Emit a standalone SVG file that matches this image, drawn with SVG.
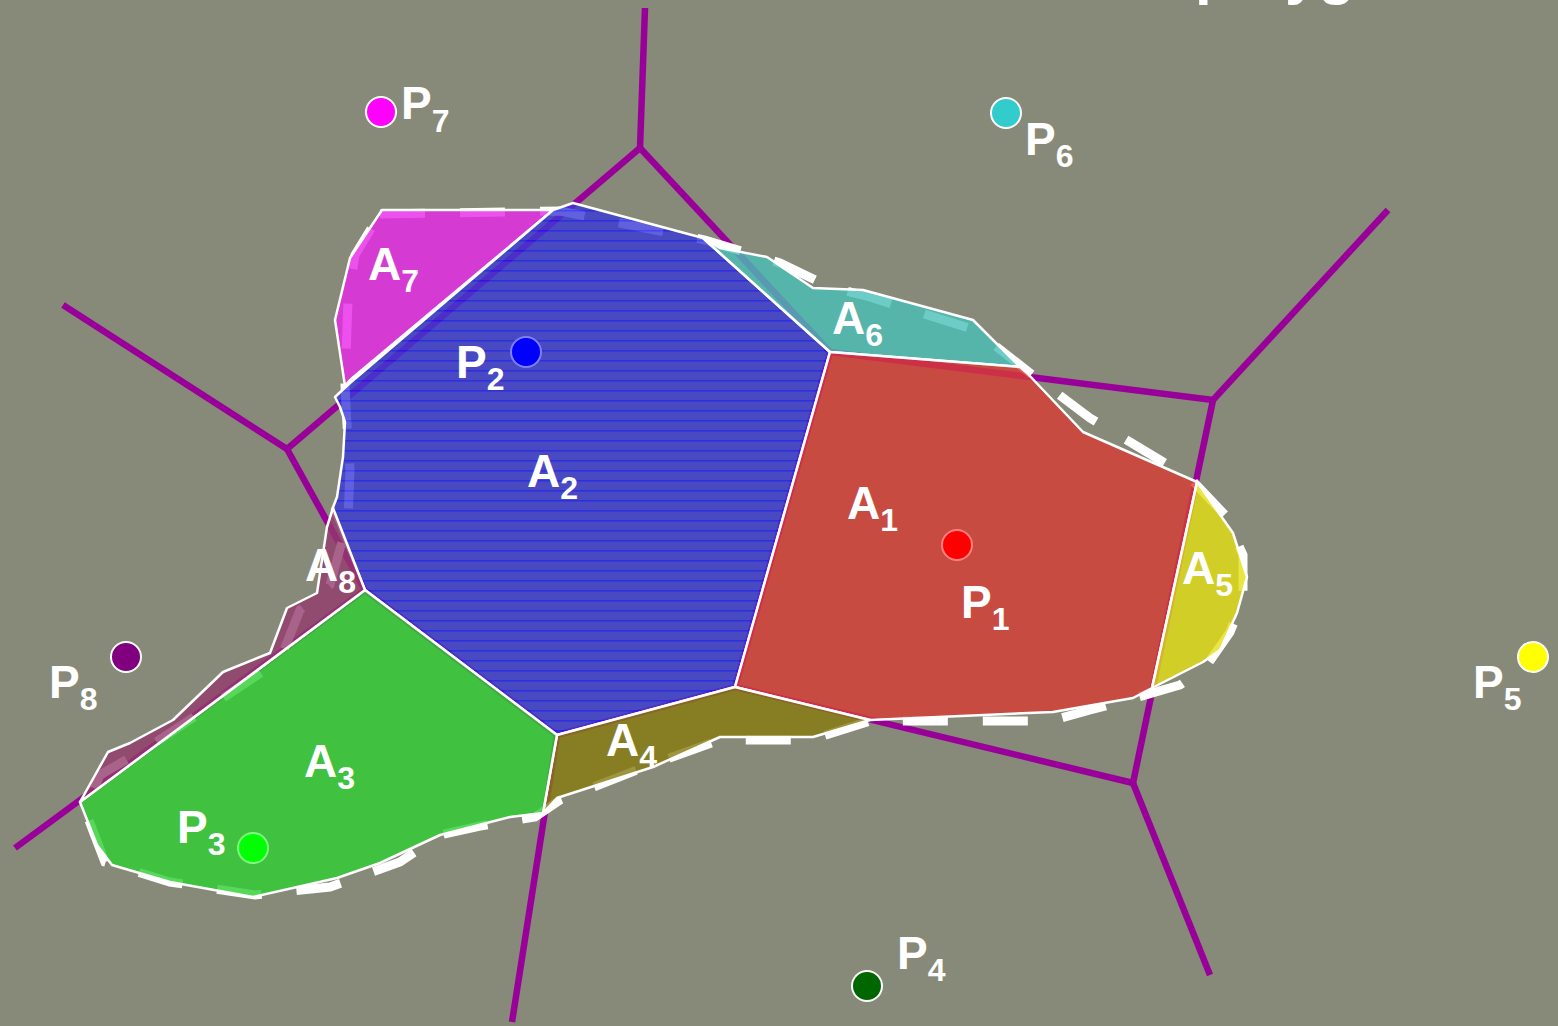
<svg xmlns="http://www.w3.org/2000/svg" width="1558" height="1026" viewBox="0 0 1558 1026">
<defs>
<style>
.vl{stroke:#990099;stroke-width:6.5;fill:none;stroke-linecap:butt}
.dash{fill:none;stroke:#ffffff;stroke-width:9;stroke-dasharray:45 35}
.reg{stroke:#ffffff;stroke-width:2.5;stroke-linejoin:round;fill-opacity:0.8}
.lbl{font-family:"Liberation Sans",Arial,sans-serif;font-weight:bold;font-size:46px;fill:#ffffff}
.sub{font-size:32px}
.pt{stroke-width:2}
</style>
<pattern id="hl" width="10" height="10" patternUnits="userSpaceOnUse">
<rect width="10" height="10" fill="#3a3ad4"/>
<rect y="0" width="10" height="1.6" fill="#1818f8"/>
</pattern>
</defs>
<rect width="1558" height="1026" fill="#878a78"/>
<text class="lbl" x="1195" y="-7" style="font-size:60px">polygons</text>

<g id="connectors">
<path class="vl" d="M645,8 L640,148"/>
<path class="vl" d="M640,148 L287,449"/>
<path class="vl" d="M640,148 L830,352"/>
<path class="vl" d="M287,449 L63,305"/>
<path class="vl" d="M287,449 L365,590"/>
<path class="vl" d="M365,590 L557,735"/>
<path class="vl" d="M365,590 L15,848"/>
<path class="vl" d="M557,735 L735,687"/>
<path class="vl" d="M557,735 L512,1022"/>
<path class="vl" d="M735,687 L830,352"/>
<path class="vl" d="M735,687 L1133,783"/>
<path class="vl" d="M830,352 L1213,400"/>
<path class="vl" d="M1213,400 L1388,210"/>
<path class="vl" d="M1213,400 L1133,783"/>
<path class="vl" d="M1133,783 L1210,975"/>
</g>

<g id="outline">
<path class="dash" d="M380,214 L560,211 L705,240 L780,263 L830,287 L870,297 L975,330 L1030,373 L1090,418 L1190,478 L1225,515 L1243,555 L1243,600 L1230,632 L1205,668 L1180,685 L1135,698 L1090,710 L1050,721 L870,721 L810,740 L720,740 L650,765 L560,800 L535,817 L480,826 L440,835 L400,862 L330,887 L255,895 L170,882 L105,862 L85,810 L100,775 L150,746 L220,700 L280,660 L300,610 L330,585 L348,520 L350,470 L347,425 L345,385 L348,300 L355,255 Z"/>
</g>

<g id="A7"><path class="reg" fill="#e926e8" d="M382,210 L553,210 L350,380 L345,386 L335,320 L350,258 Z"/>
<text class="lbl" x="368" y="280">A<tspan class="sub" dy="12">7</tspan></text></g>
<g id="A2"><path class="reg" fill="url(#hl)" d="M553,210 L573,203 L703,238 L830,352 L735,687 L557,735 L365,590 L332,510 L337,497 L343,457 L345,422 L340,407 L335,397 L350,383 Z"/>
<text class="lbl" x="527" y="487">A<tspan class="sub" dy="12">2</tspan></text></g>
<g id="A6"><path class="reg" fill="#48bfb7" d="M703,238 L720,248 L767,257 L813,288 L863,290 L973,320 L1020,367 L830,352 Z"/>
<text class="lbl" x="832" y="334">A<tspan class="sub" dy="12">6</tspan></text></g>
<g id="A1"><path class="reg" fill="#d83b33" d="M830,352 L1020,367 L1027,373 L1083,432 L1197,482 L1152,688 L1133,698 L1093,705 L1053,712 L870,720 L735,687 Z"/>
<text class="lbl" x="847" y="519">A<tspan class="sub" dy="12">1</tspan></text></g>
<g id="A5"><path class="reg" fill="#e4de14" d="M1197,482 L1233,533 L1247,577 L1237,613 L1220,650 L1203,662 L1152,688 Z"/>
<text class="lbl" x="1182" y="584">A<tspan class="sub" dy="12">5</tspan></text></g>
<g id="A4"><path class="reg" fill="#877a0e" d="M735,687 L870,720 L813,737 L720,737 L653,767 L557,798 L543,813 L557,735 Z"/>
<text class="lbl" x="606" y="756">A<tspan class="sub" dy="12">4</tspan></text></g>
<g id="A3"><path class="reg" fill="#2ece32" d="M365,590 L557,735 L543,813 L510,817 L440,835 L380,863 L337,878 L253,897 L170,882 L112,865 L97,845 L80,802 Z"/>
<text class="lbl" x="304" y="777">A<tspan class="sub" dy="12">3</tspan></text></g>
<g id="A8"><path class="reg" fill="#933b6b" d="M80,802 L108,752 L130,743 L173,720 L223,672 L270,653 L287,608 L317,593 L327,527 L333,508 L365,590 Z"/>
<text class="lbl" x="305" y="581">A<tspan class="sub" dy="12">8</tspan></text></g>

<g id="P7"><circle class="pt" cx="381" cy="112" r="15" fill="#ff00ff" stroke="#ffffff"/>
<text class="lbl" x="401" y="119">P<tspan class="sub" dy="13">7</tspan></text></g>
<g id="P6"><circle class="pt" cx="1006" cy="113" r="15" fill="#33cccc" stroke="#ffffff"/>
<text class="lbl" x="1025" y="155">P<tspan class="sub" dy="12">6</tspan></text></g>
<g id="P2"><circle class="pt" cx="526" cy="352" r="15" fill="#0000ff" stroke="#8080ff"/>
<text class="lbl" x="456" y="378">P<tspan class="sub" dy="12">2</tspan></text></g>
<g id="P1"><circle class="pt" cx="957" cy="545" r="15" fill="#ff0000" stroke="#ff8080"/>
<text class="lbl" x="961" y="618">P<tspan class="sub" dy="12">1</tspan></text></g>
<g id="P8"><circle class="pt" cx="126" cy="657" r="15" fill="#800080" stroke="#ffffff"/>
<text class="lbl" x="49" y="698">P<tspan class="sub" dy="12">8</tspan></text></g>
<g id="P5"><circle class="pt" cx="1533" cy="657" r="15" fill="#ffff00" stroke="#ffffff"/>
<text class="lbl" x="1473" y="698">P<tspan class="sub" dy="12">5</tspan></text></g>
<g id="P3"><circle class="pt" cx="253" cy="848" r="15" fill="#00ff00" stroke="#80ff80"/>
<text class="lbl" x="177" y="843">P<tspan class="sub" dy="12">3</tspan></text></g>
<g id="P4"><circle class="pt" cx="867" cy="986" r="15" fill="#006600" stroke="#ffffff"/>
<text class="lbl" x="897" y="969">P<tspan class="sub" dy="12">4</tspan></text></g>
</svg>
